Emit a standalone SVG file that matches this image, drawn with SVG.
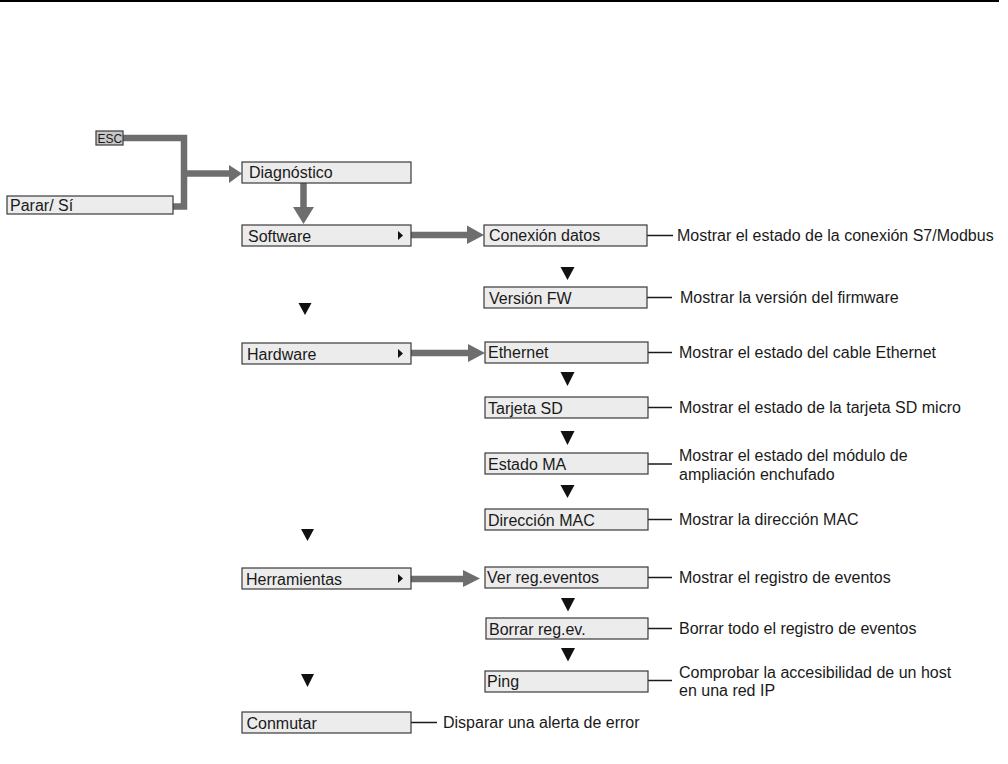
<svg xmlns="http://www.w3.org/2000/svg" width="1008" height="764" viewBox="0 0 1008 764">
<defs>
<style>
.box{fill:#ececec;stroke:#3a3a3a;stroke-width:1.2}
.esc{fill:#c8c8c8;stroke:#3a3a3a;stroke-width:1.2}
.t{font-family:"Liberation Sans",Arial,sans-serif;font-size:16px;fill:#1a1a1a}
.ts{font-family:"Liberation Sans",Arial,sans-serif;font-size:12px;fill:#1a1a1a}
.g{fill:none;stroke:#6e6e6e;stroke-width:6.5}
.gh{fill:#6e6e6e}
.k{fill:none;stroke:#1a1a1a;stroke-width:1.5}
.tri{fill:#111}
</style>
</defs>
<rect width="1008" height="764" fill="#ffffff"/>
<line x1="0" y1="1" x2="999" y2="1" stroke="#000" stroke-width="2"/>

<g id="connectors">
<polyline class="g" points="123,138 184,138 184,206.5 173,206.5"/>
<line class="g" x1="184" y1="173.5" x2="231" y2="173.5"/>
<polygon class="gh" points="229,165 242,173.5 229,183"/>
<line class="g" x1="303.5" y1="183" x2="303.5" y2="209"/>
<polygon class="gh" points="293,207 314,207 303.5,224"/>
<line class="g" x1="411" y1="235" x2="470" y2="235"/>
<polygon class="gh" points="467,225.5 484,235 467,244"/>
<line class="g" x1="411" y1="353" x2="471" y2="353"/>
<polygon class="gh" points="468,344 485,353 468,362"/>
<line class="g" x1="411" y1="579" x2="466" y2="579"/>
<polygon class="gh" points="463,570 480,578.5 463,587"/>
<polygon class="tri" points="298.5,303 311.5,303 305,315"/>
<polygon class="tri" points="301,529 314,529 307.5,541"/>
<polygon class="tri" points="301,674 314,674 307.5,687"/>
<polygon class="tri" points="560.5,267 574.5,267 567.5,280"/>
<polygon class="tri" points="560.5,372 574.5,372 567.5,386"/>
<polygon class="tri" points="560.5,431 574.5,431 567.5,445"/>
<polygon class="tri" points="560.5,485 574.5,485 567.5,498"/>
<polygon class="tri" points="561,598 575,598 568,611.5"/>
<polygon class="tri" points="561,648 575,648 568,661.5"/>
<line class="k" x1="647" y1="235.5" x2="673" y2="235.5"/>
<line class="k" x1="647" y1="297.5" x2="672" y2="297.5"/>
<line class="k" x1="648" y1="352.5" x2="672" y2="352.5"/>
<line class="k" x1="648" y1="407.5" x2="672" y2="407.5"/>
<line class="k" x1="648" y1="464" x2="672" y2="464"/>
<line class="k" x1="648" y1="519.5" x2="672" y2="519.5"/>
<line class="k" x1="648" y1="577.5" x2="672" y2="577.5"/>
<line class="k" x1="648" y1="628.5" x2="672" y2="628.5"/>
<line class="k" x1="648" y1="680.5" x2="672" y2="680.5"/>
<line class="k" x1="411" y1="722.5" x2="437" y2="722.5"/>
</g>

<g id="esc"><rect class="esc" x="96" y="131" width="27" height="14"/><text class="ts" x="97.5" y="142.5">ESC</text></g>
<g id="parar"><rect class="box" x="7" y="196" width="166" height="18"/><text class="t" x="10" y="211">Parar/ Sí</text></g>
<g id="diagnostico"><rect class="box" x="242" y="162" width="169" height="21"/><text class="t" x="249" y="178">Diagnóstico</text></g>
<g id="software"><rect class="box" x="242" y="225" width="169" height="21"/><text class="t" x="248" y="242">Software</text><polygon class="tri" points="398,231 403,235.5 398,240"/></g>
<g id="hardware"><rect class="box" x="242" y="343" width="169" height="21"/><text class="t" x="247" y="360">Hardware</text><polygon class="tri" points="398,349 403,353.5 398,358"/></g>
<g id="herramientas"><rect class="box" x="242" y="568" width="169" height="21"/><text class="t" x="246" y="585">Herramientas</text><polygon class="tri" points="398,574 403,578.5 398,583"/></g>
<g id="conmutar"><rect class="box" x="242" y="712" width="169" height="21"/><text class="t" x="246.5" y="729">Conmutar</text></g>

<g id="conexion"><rect class="box" x="484" y="225" width="163" height="21"/><text class="t" x="489" y="241">Conexión datos</text></g>
<g id="version"><rect class="box" x="484" y="287" width="163" height="21"/><text class="t" x="489" y="304">Versión FW</text></g>
<g id="ethernet"><rect class="box" x="485" y="342" width="163" height="21"/><text class="t" x="488" y="358">Ethernet</text></g>
<g id="tarjeta"><rect class="box" x="485" y="397" width="163" height="21"/><text class="t" x="488" y="414">Tarjeta SD</text></g>
<g id="estado"><rect class="box" x="485" y="453" width="163" height="21"/><text class="t" x="488" y="470">Estado MA</text></g>
<g id="direccion"><rect class="box" x="485" y="509" width="163" height="21"/><text class="t" x="488" y="526">Dirección MAC</text></g>
<g id="verreg"><rect class="box" x="485" y="567" width="163" height="21"/><text class="t" x="487" y="583">Ver reg.eventos</text></g>
<g id="borrar"><rect class="box" x="486" y="618" width="162" height="21"/><text class="t" x="489" y="635">Borrar reg.ev.</text></g>
<g id="ping"><rect class="box" x="485" y="671" width="163" height="21"/><text class="t" x="487" y="687">Ping</text></g>

<g id="descriptions">
<text class="t" x="677" y="241">Mostrar el estado de la conexión S7/Modbus</text>
<text class="t" x="680" y="303">Mostrar la versión del firmware</text>
<text class="t" x="679" y="358">Mostrar el estado del cable Ethernet</text>
<text class="t" x="679" y="413">Mostrar el estado de la tarjeta SD micro</text>
<text class="t" x="679" y="461">Mostrar el estado del módulo de</text>
<text class="t" x="679" y="480">ampliación enchufado</text>
<text class="t" x="679" y="525">Mostrar la dirección MAC</text>
<text class="t" x="679" y="583">Mostrar el registro de eventos</text>
<text class="t" x="679" y="634">Borrar todo el registro de eventos</text>
<text class="t" x="679" y="678">Comprobar la accesibilidad de un host</text>
<text class="t" x="679" y="696">en una red IP</text>
<text class="t" x="443" y="728">Disparar una alerta de error</text>
</g>
</svg>
